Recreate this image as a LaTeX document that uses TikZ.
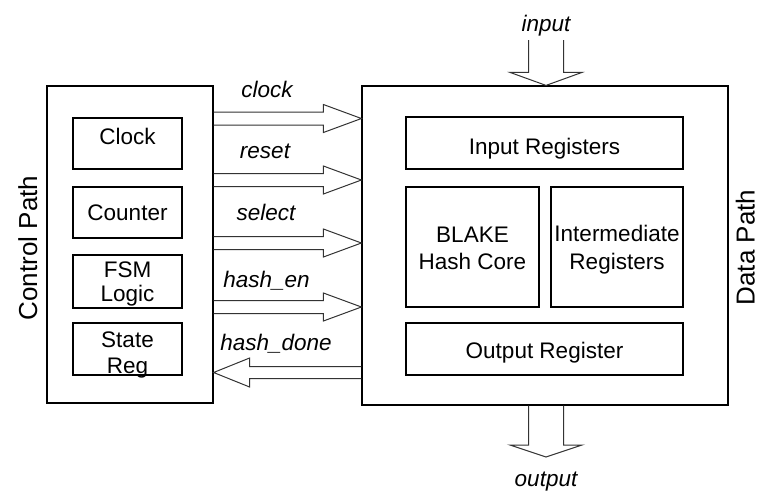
\documentclass[tikz,border=0pt]{standalone}
\usepackage{fontspec}
\setmainfont{Liberation Sans}
\usetikzlibrary{calc}
\begin{document}
\begin{tikzpicture}[x=1pt,y=-1pt,
  box/.style={draw, line width=1.2pt, inner sep=0pt},
  txt/.style={font=\fontsize{22.5}{27}\selectfont, inner sep=0pt, anchor=base},
  lbl/.style={font=\fontsize{22.5}{27}\selectfont\itshape, inner sep=0pt, anchor=base},
  side/.style={font=\fontsize{26}{30}\selectfont, rotate=90, inner sep=0pt, anchor=base},
  blk/.style={draw=black!80, line width=1pt, line join=miter}]
\useasboundingbox (0,0) rectangle (759,490);
% outer blocks
\node[box, minimum width=166pt, minimum height=317pt] (cp) at (130,244.5) {};
\node[box, minimum width=366pt, minimum height=319pt] (dp) at (545,245.5) {};
% control path blocks
\node[box, minimum width=109pt, minimum height=51pt] (clk) at (127.5,143.5) {};
\node[box, minimum width=109pt, minimum height=51pt] (cnt) at (127.5,212.5) {};
\node[box, minimum width=109pt, minimum height=53pt] (fsm) at (127.5,281.5) {};
\node[box, minimum width=109pt, minimum height=52pt] (st) at (127.5,349) {};
\node[txt] (tclk) at (127.5,144.5) {Clock};
\node[txt] (tcnt) at (127.5,220.5) {Counter};
\node[txt] (tfsm1) at (127.5,277.5) {FSM};
\node[txt] (tfsm2) at (127.5,301.5) {Logic};
\node[txt] (tst1) at (127.5,347) {State};
\node[txt] (tst2) at (127.5,373.5) {Reg};
% data path blocks
\node[box, minimum width=277pt, minimum height=52pt] (inreg) at (544.5,143) {};
\node[box, minimum width=133pt, minimum height=120pt] (blake) at (472.5,247) {};
\node[box, minimum width=132pt, minimum height=120pt] (inter) at (617,247) {};
\node[box, minimum width=277pt, minimum height=52pt] (outreg) at (544.5,349) {};
\node[txt] (tin) at (544.5,154) {Input Registers};
\node[txt] (tbl1) at (472.5,242) {BLAKE};
\node[txt] (tbl2) at (472.5,269) {Hash Core};
\node[txt] (tint1) at (617,241.5) {Intermediate};
\node[txt] (tint2) at (617,269) {Registers};
\node[txt] (tout) at (544.5,358) {Output Register};
% side labels
\node[side] (lcp) at (37,248) {Control Path};
\node[side] (ldp) at (754.5,247.5) {Data Path};
% signal coordinates
\coordinate (s1) at (cp.east |- 0,118.5);
\coordinate (e1) at (dp.west |- 0,118.5);
\coordinate (s2) at (cp.east |- 0,180);
\coordinate (e2) at (dp.west |- 0,180);
\coordinate (s3) at (cp.east |- 0,243);
\coordinate (e3) at (dp.west |- 0,243);
\coordinate (s4) at (cp.east |- 0,307);
\coordinate (e4) at (dp.west |- 0,307);
\coordinate (s5) at (dp.west |- 0,372.5);
\coordinate (e5) at (cp.east |- 0,372.5);
% right block arrows
\foreach \a/\b in {s1/e1,s2/e2,s3/e3,s4/e4}{
  \draw[blk] let \p1=(\a), \p2=(\b) in
    (\x1,\y1+6.5pt) -- (\x2-38pt,\y1+6.5pt) -- (\x2-38pt,\y1+14pt) -- (\p2)
    -- (\x2-38pt,\y1-14pt) -- (\x2-38pt,\y1-6.5pt) -- (\x1,\y1-6.5pt);
}
% left block arrow
\draw[blk] let \p1=(s5), \p2=(e5) in
    (\x1,\y1+6pt) -- (\x2+36pt,\y1+6pt) -- (\x2+36pt,\y1+14.5pt) -- (\p2)
    -- (\x2+36pt,\y1-14.5pt) -- (\x2+36pt,\y1-6pt) -- (\x1,\y1-6pt);
% input / output arrows
\coordinate (it) at (546,40);
\coordinate (ip) at (dp.north);
\draw[blk] let \p1=(it), \p2=(ip) in
    (\x1-17.5pt,\y1) -- (\x1-17.5pt,\y2+13pt) -- (\x1-36pt,\y2+13pt) -- (\x1,\y2)
    -- (\x1+36pt,\y2+13pt) -- (\x1+17.5pt,\y2+13pt) -- (\x1+17.5pt,\y1);
\coordinate (ob) at (546,457);
\draw[blk] let \p1=(dp.south), \p2=(ob) in
    (\x2-17.5pt,\y1) -- (\x2-17.5pt,\y2+12pt) -- (\x2-36pt,\y2+12pt) -- (\p2)
    -- (\x2+36pt,\y2+12pt) -- (\x2+17.5pt,\y2+12pt) -- (\x2+17.5pt,\y1);
% signal labels
\node[lbl] (lclk) at (267,97) {clock};
\node[lbl] (lrst) at (265,158) {reset};
\node[lbl] (lsel) at (266,220) {select};
\node[lbl] (len) at (266.5,287) {hash\_en};
\node[lbl] (ldone) at (276,350) {hash\_done};
\node[lbl] (lin) at (546,31) {input};
\node[lbl] (lout) at (546,486) {output};
\end{tikzpicture}
\end{document}
